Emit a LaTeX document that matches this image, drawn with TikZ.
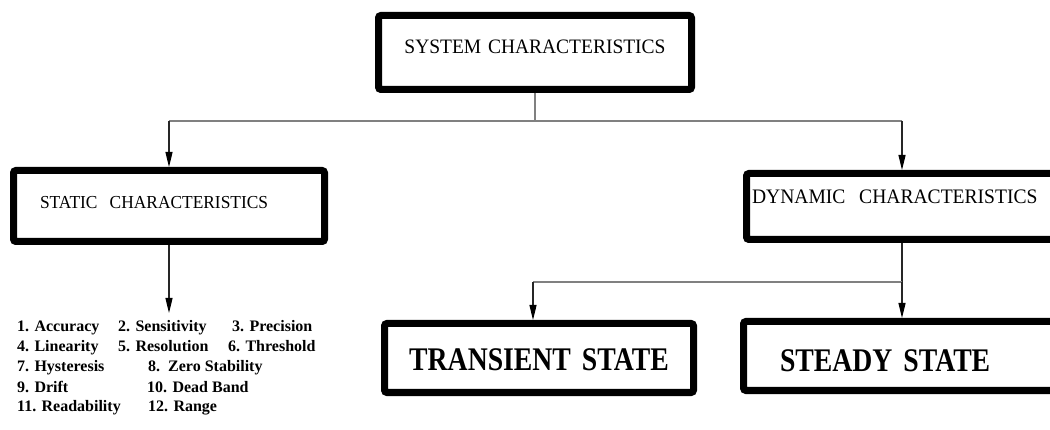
\documentclass[tikz,border=0pt]{standalone}
\usepackage{fontspec}
\setmainfont{LiberationSerif}[Extension=.ttf, UprightFont=*-Regular, BoldFont=*-Bold, ItalicFont=*-Italic, BoldItalicFont=*-BoldItalic]
\newfontfamily\headfont{LiberationSerif}[Extension=.ttf, UprightFont=*-Regular, BoldFont=*-Bold, FakeStretch=0.95]
\newfontfamily\statefont{LiberationSerif}[Extension=.ttf, UprightFont=*-Bold, BoldFont=*-Bold, FakeStretch=0.84]
\usetikzlibrary{arrows.meta}

\begin{document}
\begin{tikzpicture}[x=1pt,y=-1pt,
  thickbox/.style={draw=black, line width=7pt, rounded corners=2.5pt, inner sep=0pt},
  headtext/.style={font=\headfont\fontsize{#1}{#1}\selectfont},
  statetext/.style={font=\statefont\fontsize{33}{33}\selectfont},
  link/.style={line width=1.3pt, draw=black!50},
  drop/.style={line width=1.2pt, draw=black!85, -{Triangle[length=15pt,width=7pt,color=black]}},
  item/.style={anchor=base west, inner sep=0pt, font=\bfseries\fontsize{16}{18}\selectfont}
]
\useasboundingbox (0,0) rectangle (1050,430);
\fill[white] (0,0) rectangle (1050,430);
\clip (0,0) rectangle (1050,430);

% top level
\node[thickbox, headtext=20.5, minimum width=313pt, minimum height=74pt,
      text width=313pt, align=center, text height=13.6pt, text depth=11pt]
  (sys) at (535,52.5) {\mbox{SYSTEM CHARACTERISTICS}};

% second level
\node[thickbox, headtext=18.3, minimum width=311pt, minimum height=71pt,
      inner xsep=26.5pt, text width=258pt, align=left, text height=12pt, text depth=6pt]
  (stat) at (169,206) {\mbox{STATIC\ \ CHARACTERISTICS}};
\node[thickbox, headtext=20.6, minimum width=311pt, minimum height=66pt,
      inner xsep=5.5pt, text width=300pt, align=left, text height=13.8pt, text depth=19pt]
  (dyn) at (902,206.5) {\mbox{DYNAMIC\ \ CHARACTERISTICS}};

% third level
\node[thickbox, statetext, minimum width=309pt, minimum height=69pt,
      text width=309pt, align=center, text height=25.8pt, text depth=0pt]
  (trans) at (539,358) {\mbox{TRANSIENT STATE}};
\node[thickbox, statetext, minimum width=317pt, minimum height=69pt,
      inner xsep=36.5pt, text width=244pt, align=left, text height=31.8pt, text depth=0pt]
  (steady) at (902,356) {\mbox{STEADY STATE}};

% connectors from the top box
\coordinate (hub) at (535,121);
\draw[link] (sys.south) -- (hub);
\draw[link] (stat.north |- hub) -- (dyn.north |- hub);
\draw[drop] (stat.north |- hub) -- (stat.north);
\draw[drop] (dyn.north |- hub) -- (dyn.north);

% static list
\coordinate (listtop) at (169,313);
\draw[drop] (stat.south) -- (listtop);

\node[item] (i1)  at (17,332)  {1. Accuracy};
\node[item] (i2)  at (118,332) {2. Sensitivity};
\node[item] (i3)  at (232,332) {3. Precision};
\node[item] (i4)  at (17,352)  {4. Linearity};
\node[item] (i5)  at (118,352) {5. Resolution};
\node[item] (i6)  at (228,352) {6. Threshold};
\node[item] (i7)  at (17,372)  {7. Hysteresis};
\node[item] (i8)  at (148,372) {8.\ \ Zero Stability};
\node[item] (i9)  at (17,392)  {9. Drift};
\node[item] (i10) at (147,392) {10. Dead Band};
\node[item] (i11) at (17,411)  {11. Readability};
\node[item] (i12) at (148,411) {12. Range};

% dynamic branches
\coordinate (split) at (902,282);
\coordinate (tj) at (533,282);
\draw[line width=1.2pt, draw=black!85] (dyn.south) -- (split);
\draw[link] (split) -- (tj);
\draw[drop] (tj) -- (tj |- trans.north);
\draw[drop] (split) -- (steady.north);
\end{tikzpicture}
\end{document}
